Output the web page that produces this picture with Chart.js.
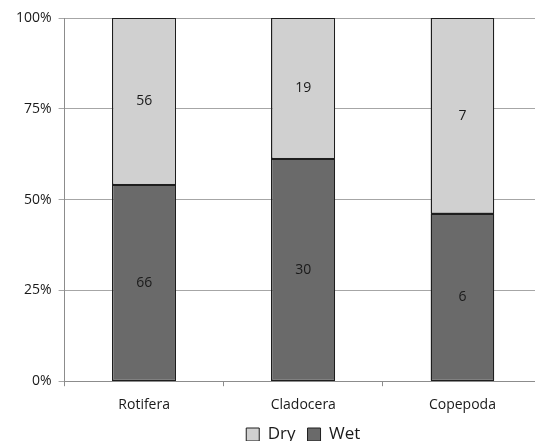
<!DOCTYPE html>
<html>
<head>
<meta charset="utf-8">
<script src="https://cdn.jsdelivr.net/npm/chart.js@4/dist/chart.umd.min.js"></script>
<style>
  html, body { margin: 0; padding: 0; background: #fff; overflow: hidden; }
  .wrap { width: 548px; height: 441px; }
</style>
</head>
<body>
<div class="wrap"><canvas id="chart" width="548" height="441"></canvas></div>
<script>
// categories and raw counts (labels inside bars show counts, heights are shares)
const categories = ['Rotifera', 'Cladocera', 'Copepoda'];
const wetCounts = [66, 30, 6];
const dryCounts = [56, 19, 7];
const yTicks = [0, 25, 50, 75, 100];

const toShare = (a, b) => a.map((v, i) => v / (v + b[i]) * 100);
const wetShare = toShare(wetCounts, dryCounts);
const dryShare = toShare(dryCounts, wetCounts);

const font = "'Open Sans', 'DejaVu Sans', sans-serif";

// crisp outlines + the count in the middle of each bar segment
const countLabels = {
  id: 'countLabels',
  beforeDraw(chart) {
    // centre the legend under the plot area, not the whole canvas
    const lg = chart.legend;
    lg.left = chart.chartArea.left;
    lg.right = chart.chartArea.right;
  },
  afterDatasetsDraw(chart) {
    const c = chart.ctx;
    c.save();
    c.strokeStyle = '#1e1e1e';
    c.lineWidth = 1;
    chart.data.datasets.forEach((ds, di) => {
      chart.getDatasetMeta(di).data.forEach(bar => {
        const l = Math.round(bar.x - bar.width / 2) + 0.5;
        const r = Math.round(bar.x + bar.width / 2) - 0.5;
        const t = Math.round(Math.min(bar.y, bar.base)) + 0.5;
        const b = Math.round(Math.max(bar.y, bar.base)) - 0.5;
        c.strokeRect(l, t, r - l, b - t);
      });
    });
    c.font = '14px ' + font;
    c.fillStyle = '#1a1a1a';
    c.textAlign = 'center';
    c.textBaseline = 'middle';
    chart.data.datasets.forEach((ds, di) => {
      chart.getDatasetMeta(di).data.forEach((bar, i) => {
        const p = bar.getCenterPoint();
        c.fillText(String(ds.counts[i]), p.x, p.y);
      });
    });
    c.restore();
  }
};

new Chart(document.getElementById('chart'), {
  type: 'bar',
  data: {
    labels: categories,
    datasets: [{
      label: 'Wet',
      data: wetShare,
      counts: wetCounts,
      backgroundColor: '#6a6a6a',
      borderColor: '#1e1e1e',
      borderWidth: 1,
      borderSkipped: false,
      inflateAmount: 0
    }, {
      label: 'Dry',
      data: dryShare,
      counts: dryCounts,
      backgroundColor: '#d0d0d0',
      borderColor: '#1e1e1e',
      borderWidth: 1,
      borderSkipped: false,
      inflateAmount: 0
    }]
  },
  options: {
    responsive: false,
    animation: false,
    barPercentage: 0.4,
    categoryPercentage: 1,
    layout: { padding: { top: 18, right: 6, left: 9, bottom: -12 } },
    scales: {
      x: {
        stacked: true,
        grid: {
          offset: true,
          drawOnChartArea: false,
          tickLength: 5,
          color: '#8c8c8c'
        },
        border: { color: '#8c8c8c' },
        ticks: { color: '#1a1a1a', font: { family: font, size: 14 }, padding: 10 },
        afterFit(axis) { axis.height -= 9; }
      },
      y: {
        stacked: true,
        min: 0,
        max: 100,
        afterBuildTicks(axis) {
          axis.ticks = yTicks.map(v => ({ value: v }));
        },
        grid: { color: '#a6a6a6', tickLength: 6 },
        border: { color: '#8c8c8c' },
        ticks: {
          color: '#1a1a1a',
          font: { family: font, size: 14 },
          padding: 7,
          callback: v => v + '%'
        }
      }
    },
    plugins: {
      legend: {
        position: 'bottom',
        reverse: true,
        labels: {
          color: '#1a1a1a',
          font: { family: font, size: 17 },
          boxWidth: 13,
          boxHeight: 13,
          padding: 12
        }
      },
      tooltip: { enabled: false }
    }
  },
  plugins: [countLabels]
});
</script>
</body>
</html>
